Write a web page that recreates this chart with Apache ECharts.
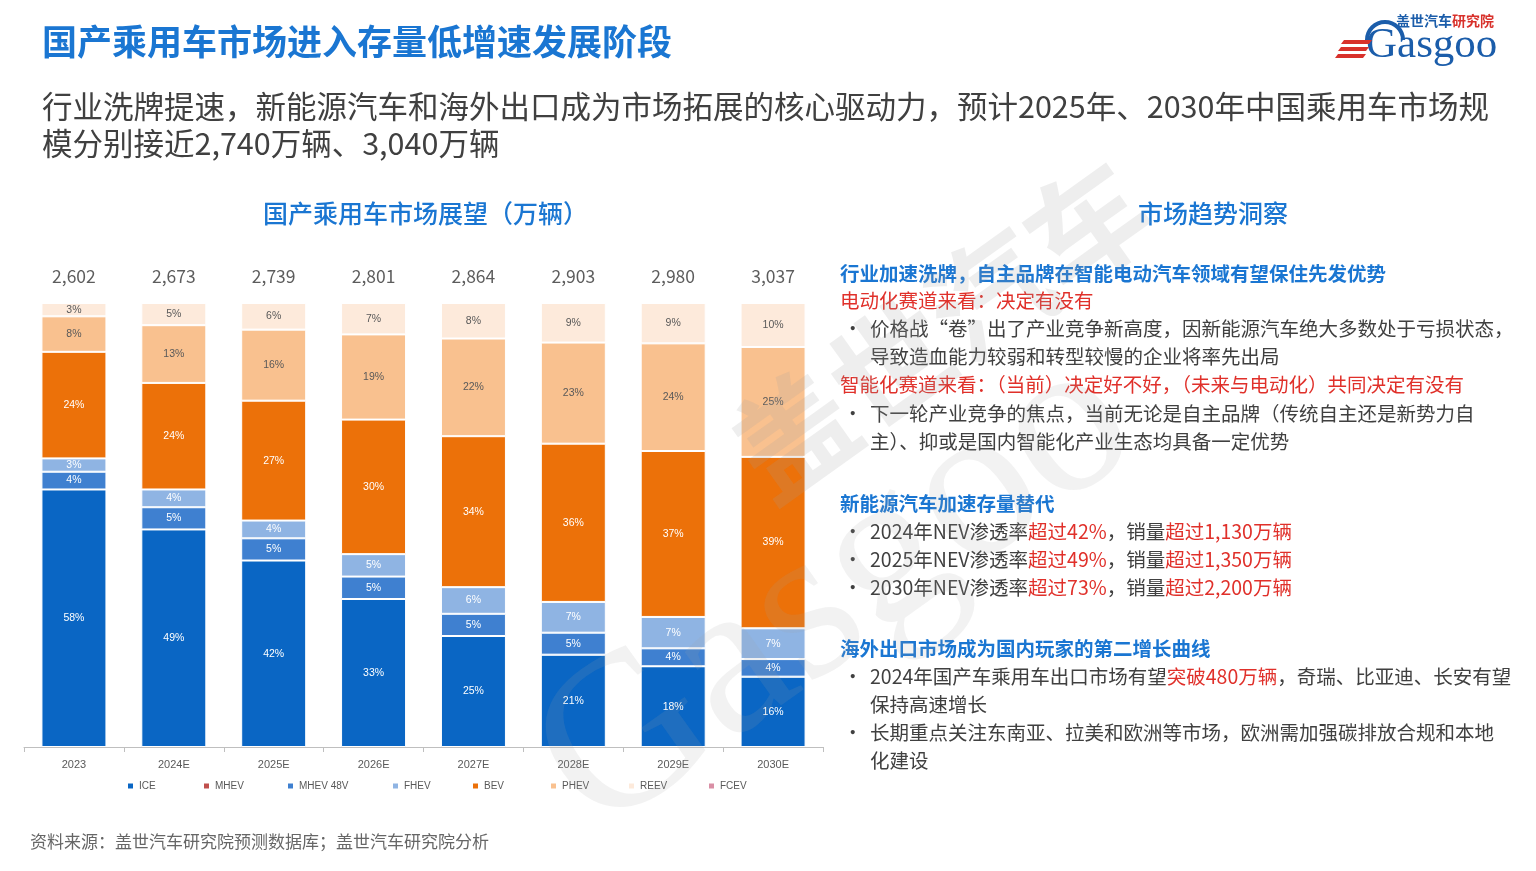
<!DOCTYPE html>
<html><head><meta charset="utf-8">
<script src="https://cdn.jsdelivr.net/npm/echarts@6/dist/echarts.min.js"></script>
<style>html,body{margin:0;padding:0;background:#fff;}#c{width:1536px;height:871px;}</style>
</head><body><div id="c"></div>
<script>
const categories = ['2023','2024E','2025E','2026E','2027E','2028E','2029E','2030E'];
const totals = [2602,2673,2739,2801,2864,2903,2980,3037];
const ICE     = [58,49,42,33,25,21,18,16];
const MHEV    = [0,0,0,0,0,0,0,0];
const MHEV48V = [4,5,5,5,5,5,4,4];
const FHEV    = [3,4,4,5,6,7,7,7];
const BEV     = [24,24,27,30,34,36,37,39];
const PHEV    = [8,13,16,19,22,23,24,25];
const REEV    = [3,5,6,7,8,9,9,10];
const FCEV    = [0,0,0,0,0,0,0,0];
const seriesNames = ['ICE','MHEV','MHEV 48V','FHEV','BEV','PHEV','REEV','FCEV'];
const seriesData = [ICE,MHEV,MHEV48V,FHEV,BEV,PHEV,REEV,FCEV];

const colors = ['#0A66C4','#C0504D','#3F80D0','#8FB4E3','#EC7109','#F9C18F','#FDEADB','#D98FA5'];
const labelColors = ['#fff','#fff','#fff','#fff','#fff','#595959','#595959','#fff'];
const sums = categories.map((c,i)=>seriesData.reduce((a,s)=>a+s[i],0));

const FONT = '"Noto Sans CJK SC","Noto Sans",sans-serif';
const LFONT = '"Liberation Sans",sans-serif';
const chart = echarts.init(document.getElementById('c'));

const series = seriesNames.map((name,k)=>({
  name, type:'bar', stack:'all', barWidth:65,
  data: seriesData[k].map((v,i)=>v/sums[i]*100),
  itemStyle:{color:colors[k], borderColor:'#fff', borderWidth:1},
  label:{show:true, position:'inside', color:labelColors[k], fontSize:10.5, fontFamily:LFONT,
    formatter:p=>seriesData[k][p.dataIndex] ? seriesData[k][p.dataIndex]+'%' : ''}
}));
series.push({
  name:'total', type:'scatter', data: categories.map(()=>100), symbolSize:1,
  itemStyle:{color:'rgba(0,0,0,0)'}, silent:true, z:10,
  label:{show:true, position:'top', distance:17, color:'#333', fontSize:17.5, fontFamily:FONT,
    formatter:p=>totals[p.dataIndex].toLocaleString('en-US')}
});

// Right panel lines
const BLUE='#1A76D2', RED='#E0302A', GRAY='#404040';
const FS=19.5;
const rich = {r:{fill:RED,fontSize:FS,fontFamily:FONT}};
const lines = [
  {y:276,x:840,t:'行业加速洗牌，自主品牌在智能电动汽车领域有望保住先发优势',c:BLUE,w:'bold'},
  {y:303,x:840,t:'电动化赛道来看：决定有没有',c:RED},
  {y:331,x:870,t:'价格战“卷”出了产业竞争新高度，因新能源汽车绝大多数处于亏损状态，',c:GRAY,b:1},
  {y:359,x:870,t:'导致造血能力较弱和转型较慢的企业将率先出局',c:GRAY},
  {y:387,x:840,t:'智能化赛道来看：（当前）决定好不好，（未来与电动化）共同决定有没有',c:RED},
  {y:416,x:870,t:'下一轮产业竞争的焦点，当前无论是自主品牌（传统自主还是新势力自',c:GRAY,b:1},
  {y:444,x:870,t:'主）、抑或是国内智能化产业生态均具备一定优势',c:GRAY},
  {y:506,x:840,t:'新能源汽车加速存量替代',c:BLUE,w:'bold'},
  {y:534,x:870,t:'2024年NEV渗透率{r|超过42%}，销量{r|超过1,130万辆}',c:GRAY,b:1},
  {y:562,x:870,t:'2025年NEV渗透率{r|超过49%}，销量{r|超过1,350万辆}',c:GRAY,b:1},
  {y:590,x:870,t:'2030年NEV渗透率{r|超过73%}，销量{r|超过2,200万辆}',c:GRAY,b:1},
  {y:651,x:840,t:'海外出口市场成为国内玩家的第二增长曲线',c:BLUE,w:'bold'},
  {y:679,x:870,t:'2024年国产车乘用车出口市场有望{r|突破480万辆}，奇瑞、比亚迪、长安有望',c:GRAY,b:1},
  {y:707,x:870,t:'保持高速增长',c:GRAY},
  {y:735,x:870,t:'长期重点关注东南亚、拉美和欧洲等市场，欧洲需加强碳排放合规和本地',c:GRAY,b:1},
  {y:763,x:870,t:'化建设',c:GRAY}
];
const graphics = [];
lines.forEach(l=>{
  graphics.push({type:'text', left:l.x, top:l.y-12, style:{text:l.t, fill:l.c, fontSize:FS, fontFamily:FONT, fontWeight:l.w||'normal', rich}});
  if(l.b) graphics.push({type:'text', left:843, top:l.y-12, style:{text:'•', fill:GRAY, fontSize:FS, fontFamily:FONT}});
});
// Header
graphics.push({type:'text', left:42, top:24, style:{text:'国产乘用车市场进入存量低增速发展阶段', fill:BLUE, fontSize:35, fontWeight:'bold', fontFamily:FONT}});
graphics.push({type:'text', left:42, top:91, style:{text:'行业洗牌提速，新能源汽车和海外出口成为市场拓展的核心驱动力，预计2025年、2030年中国乘用车市场规', fill:GRAY, fontSize:30.5, fontFamily:FONT}});
graphics.push({type:'text', left:42, top:128, style:{text:'模分别接近2,740万辆、3,040万辆', fill:GRAY, fontSize:30.5, fontFamily:FONT}});
// section titles
graphics.push({type:'text', left:263, top:201, style:{text:'国产乘用车市场展望（万辆）', fill:BLUE, fontSize:25, fontFamily:FONT, fontWeight:500}});
graphics.push({type:'text', left:1138, top:201, style:{text:'市场趋势洞察', fill:BLUE, fontSize:25, fontFamily:FONT, fontWeight:500}});
// footer
graphics.push({type:'text', left:30, top:833, style:{text:'资料来源：盖世汽车研究院预测数据库；盖世汽车研究院分析', fill:'#666', fontSize:17, fontFamily:FONT}});
// logo
graphics.push({type:'text', left:1396, top:14, style:{text:'盖世汽车{r|研究院}', fill:'#1B5DAA', fontSize:14, fontWeight:'bold', fontFamily:FONT, rich:{r:{fill:'#D8312B',fontSize:14,fontWeight:'bold',fontFamily:FONT}}}});
graphics.push({type:'text', left:1366, top:24, style:{text:'Gasgoo', fill:'#1B5DAA', fontSize:43, fontFamily:'"Liberation Serif","DejaVu Serif",serif'}});
[0,1,2].forEach(i=>graphics.push({type:'polygon', shape:{points:[[1344-i*3,40+i*7],[1372-i*3,40+i*7],[1369-i*3,44+i*7],[1341-i*3,44+i*7]]}, style:{fill:'#D8312B'}}));
graphics.push({type:'arc', shape:{cx:1385,cy:40,r:18,startAngle:Math.PI,endAngle:Math.PI*2}, style:{stroke:'#1B5DAA',lineWidth:4,fill:null}});
// watermark
graphics.push({type:'text', x:710, y:420, rotation:0.62, z:100, style:{text:'盖世汽车', fill:'rgba(160,160,160,0.18)', fontSize:120, fontWeight:'bold', fontFamily:FONT}});
graphics.push({type:'text', x:500, y:700, rotation:0.62, z:100, style:{text:'Gasgoo', fill:'rgba(160,160,160,0.14)', fontSize:220, fontFamily:'"Liberation Serif",serif'}});

const legendX=[121,197,281,386,466,544,622,702];
const legends = seriesNames.map((n,i)=>({data:[n], left:legendX[i], top:776, itemWidth:7, itemHeight:7, icon:'rect',
  textStyle:{color:'#595959', fontSize:10, fontFamily:LFONT}, selectedMode:false}));

chart.setOption({
  animation:false,
  color:colors,
  grid:{left:24, right:713, top:303, bottom:124, containLabel:false},
  xAxis:{type:'category', data:categories,
    axisLine:{lineStyle:{color:'#BFBFBF'}}, axisTick:{show:true, length:5, lineStyle:{color:'#BFBFBF'}},
    axisLabel:{color:'#595959', fontSize:11, margin:12, fontFamily:LFONT}},
  yAxis:{type:'value', min:0, max:100, show:false, splitLine:{show:false}},
  legend:legends,
  series,
  graphic:graphics
});
</script></body></html>
